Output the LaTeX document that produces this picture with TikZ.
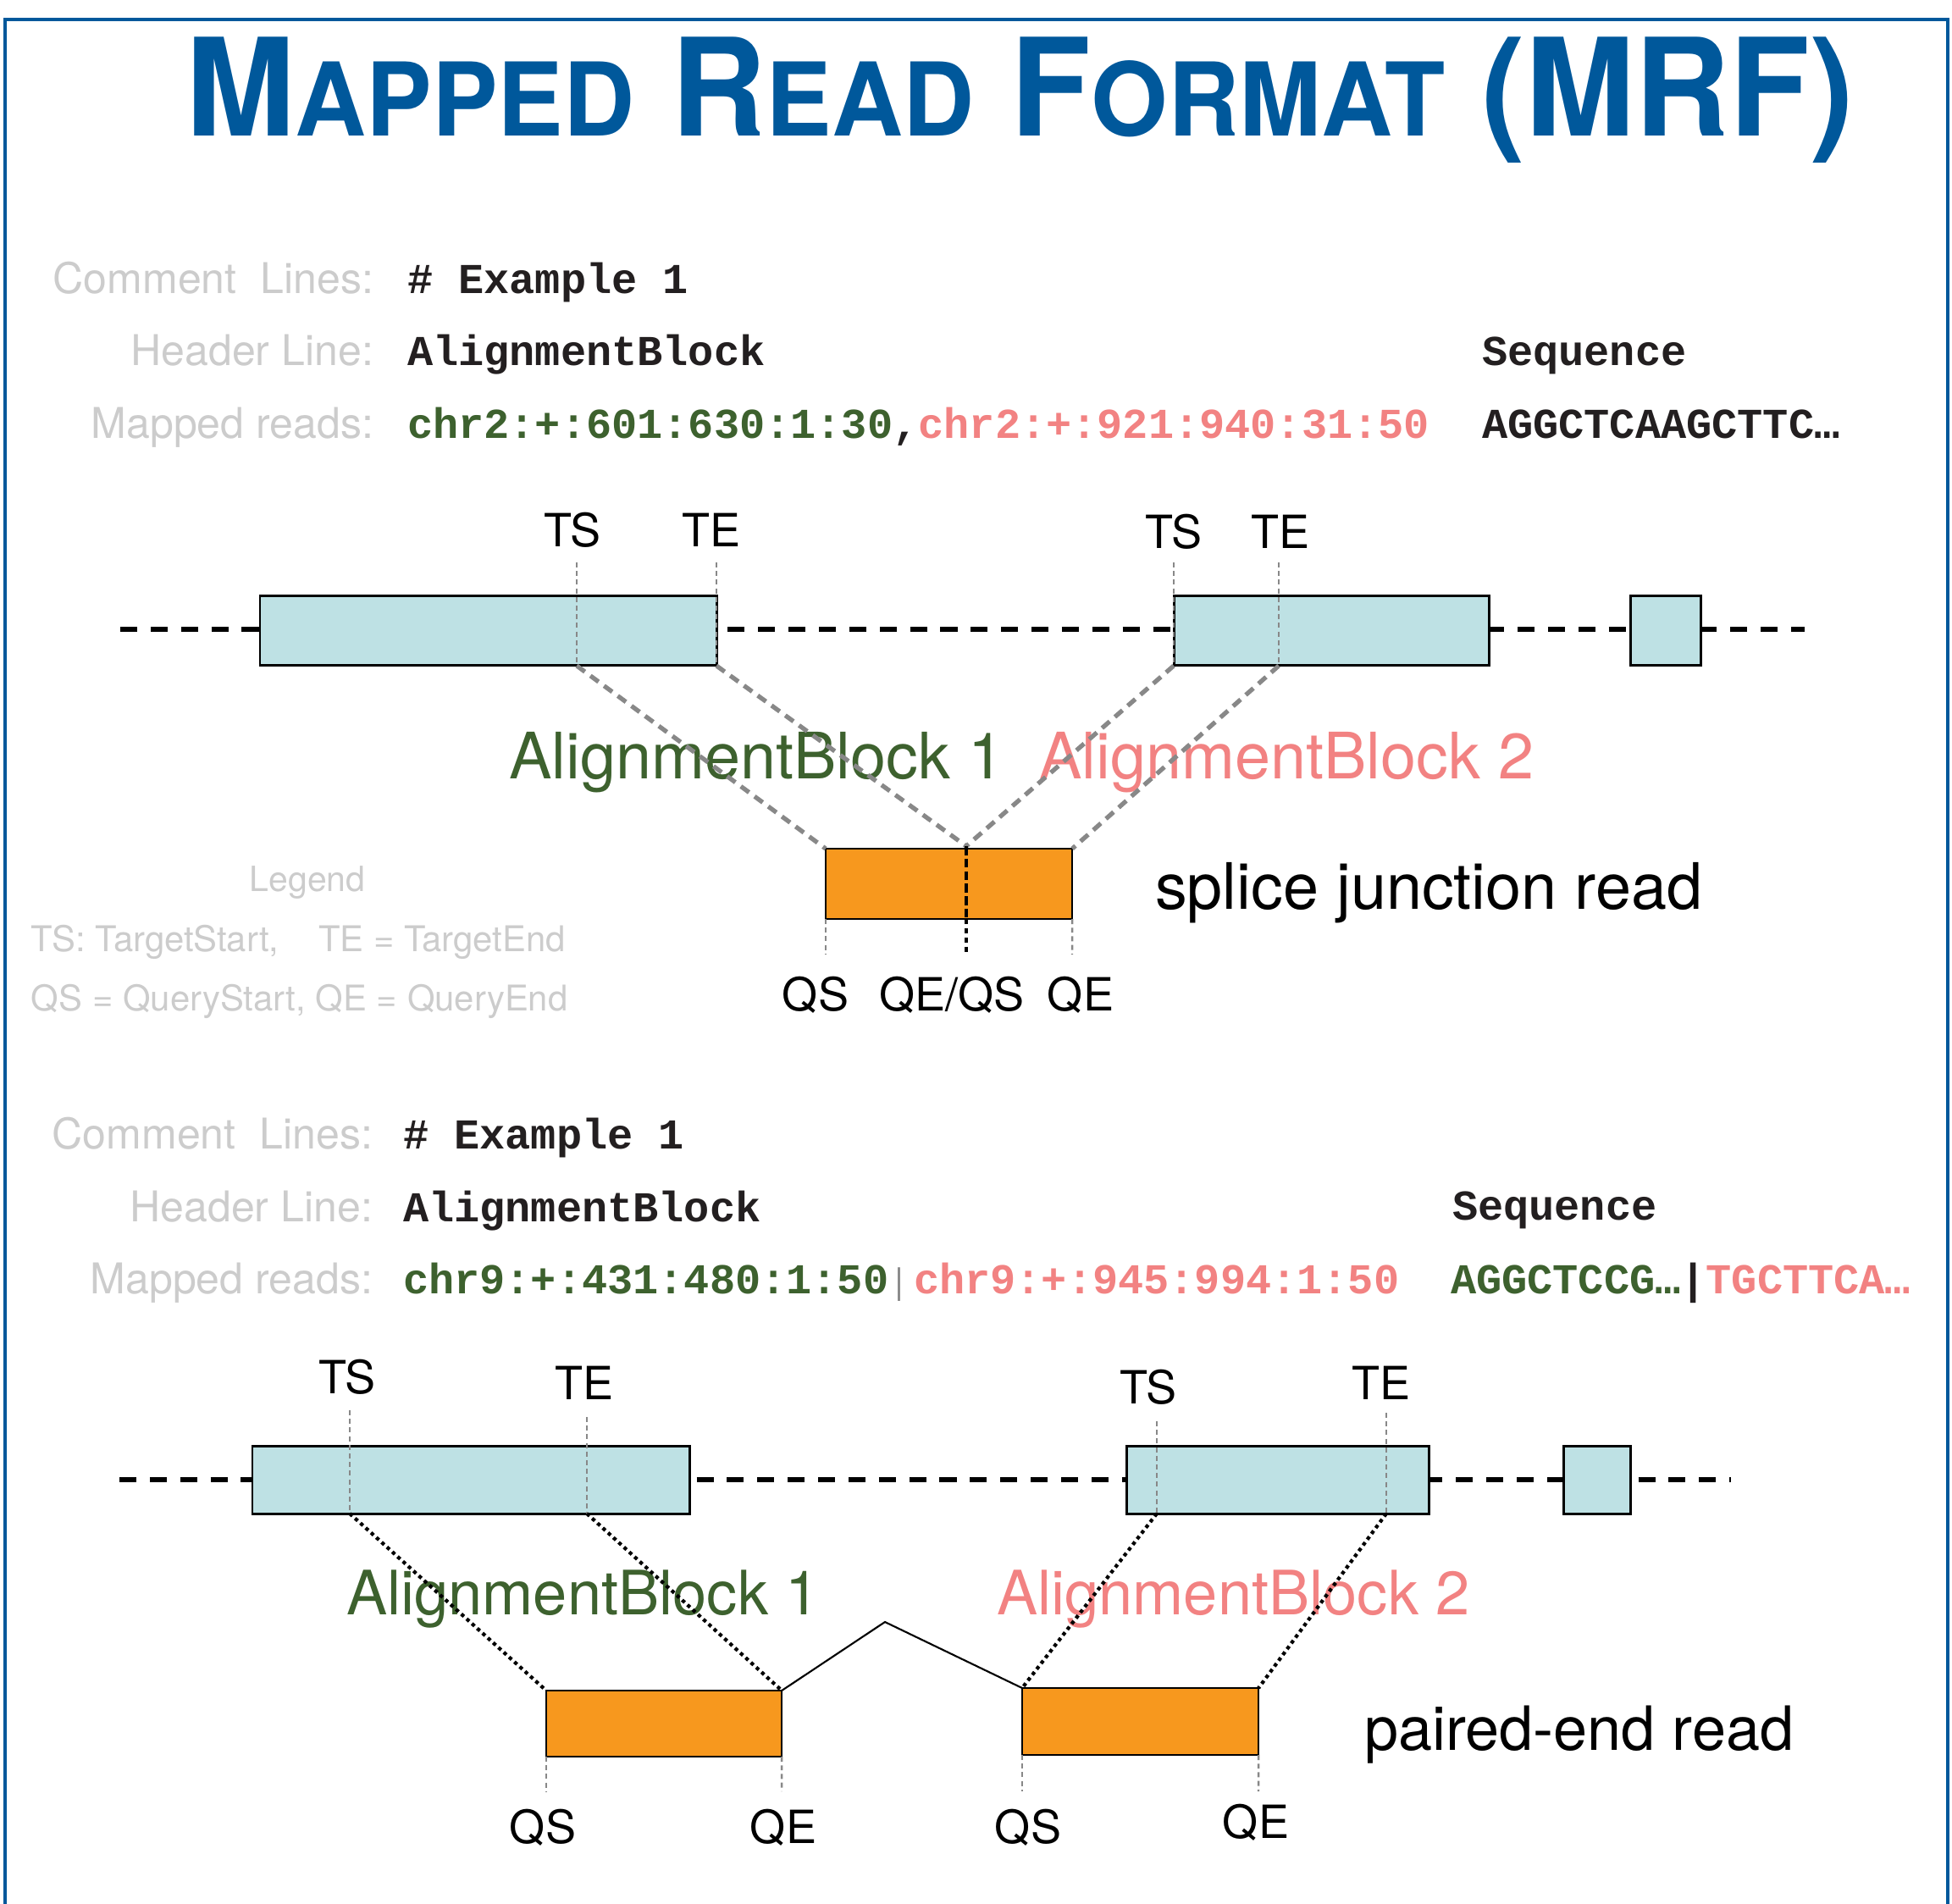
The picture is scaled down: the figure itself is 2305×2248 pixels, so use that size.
\documentclass[tikz,border=0pt]{standalone}
\usepackage{fontspec}
\setmainfont{TeX Gyre Heros}
\setmonofont{Liberation Mono}
\usetikzlibrary{calc}

\definecolor{titleblue}{RGB}{0,88,155}
\definecolor{labelgray}{RGB}{204,204,204}
\definecolor{markgray}{RGB}{136,136,136}
\definecolor{codeblack}{RGB}{35,31,32}
\definecolor{codegreen}{RGB}{61,97,46}
\definecolor{codepink}{RGB}{242,130,130}
\definecolor{exonblue}{RGB}{190,225,228}
\definecolor{readorange}{RGB}{247,152,30}

\tikzset{
  every node/.style={inner sep=0pt, outer sep=0pt},
  fieldname/.style={anchor=base east, text=labelgray, font=\fontsize{14.23pt}{17pt}\selectfont},
  codetext/.style={anchor=base west, text=codeblack, font=\fontsize{14.3pt}{17pt}\selectfont\ttfamily\bfseries},
  marklabel/.style={anchor=base, font=\fontsize{15.36pt}{18pt}\selectfont},
  blocklabel/.style={anchor=base west, font=\fontsize{21.5pt}{25pt}\selectfont},
  blocklabelsm/.style={anchor=base west, font=\fontsize{20.55pt}{24pt}\selectfont},
  legendtext/.style={anchor=base west, text=labelgray, font=\fontsize{11.9pt}{14pt}\selectfont},
  exon/.style={draw=black, fill=exonblue, line width=0.85pt, anchor=north west},
  readbox/.style={draw=black, fill=readorange, line width=0.75pt, anchor=north west},
  backbone/.style={line width=1.45pt, dash pattern=on 5.7pt off 4.5pt},
  marker/.style={draw=markgray, line width=0.7pt, dash pattern=on 1.7pt off 1.2pt},
  projgray/.style={draw=markgray, line width=1.5pt, dash pattern=on 3.4pt off 2.3pt},
  projdot/.style={line width=1.2pt, dash pattern=on 1.2pt off 1.2pt},
  joinline/.style={line width=0.6pt},
}

\begin{document}
\begin{tikzpicture}[x=0.01cm, y=-0.01cm]
\useasboundingbox (0,0) rectangle (2305,2248);

% frame
\draw[titleblue, line width=1.4pt] (6,2260) -- (6,23) -- (2300,23) -- (2300,2260);

% title in small capitals
\node[anchor=base west, text=titleblue] (title) at (219,160)
  {\scalebox{0.97}[1]{\bfseries\fontsize{45.52pt}{50pt}\selectfont
   M{\fontsize{34.14pt}{38pt}\selectfont APPED} R{\fontsize{34.14pt}{38pt}\selectfont EAD} F{\fontsize{34.14pt}{38pt}\selectfont ORMAT} (MRF)}};

% ---------------- splice junction example ----------------
\node[fieldname] (cl1) at (441,346) {Comment\ \ Lines:};
\node[fieldname] (hl1) at (441,431) {Header Line:};
\node[fieldname] (mr1) at (441,517) {Mapped reads:};
\node[codetext] (cv1) at (481,346) {\# Example 1};
\node[codetext] (hv1) at (481,431) {AlignmentBlock};
\node[codetext] (sq1) at (1750,431) {Sequence};
\node[codetext] (rv1) at (481,517)
  {{\color{codegreen}chr2:+:601:630:1:30}{\color{codeblack},}{\color{codepink}chr2:+:921:940:31:50}};
\node[codetext] (sv1) at (1750,517) {AGGCTCAAGCTTC…};

\coordinate (bbA) at (142,743);
\coordinate (bbB) at (2131,743);
\draw[backbone] (bbA) -- (bbB);

\node[exon, minimum width=5.39cm, minimum height=0.82cm] (ex1) at (307,703) {};
\node[exon, minimum width=3.72cm, minimum height=0.82cm] (ex2) at (1386,703) {};
\node[exon, minimum width=0.83cm, minimum height=0.82cm] (ex3) at (1925,703) {};

\node[marklabel] (tsA) at (676,645) {TS};
\node[marklabel] (teA) at (840,645) {TE};
\node[marklabel] (tsB) at (1386,647) {TS};
\node[marklabel] (teB) at (1512,647) {TE};

\coordinate (tsAt) at (681,664);  \coordinate (tsAb) at (681,786);
\coordinate (teAt) at (846,664);  \coordinate (teAb) at (846,786);
\coordinate (tsBt) at (1386,664); \coordinate (tsBb) at (1386,786);
\coordinate (teBt) at (1510,664); \coordinate (teBb) at (1510,786);
\draw[marker] (tsAt) -- (tsAb);
\draw[marker] (teAt) -- (teAb);
\draw[marker] (tsBt) -- (tsBb);
\draw[marker] (teBt) -- (teBb);

\node[blocklabel, text=codegreen] (ab1) at (601,919) {AlignmentBlock 1};
\node[blocklabel, text=codepink] (ab2) at (1227,919) {AlignmentBlock 2};

\node[readbox, minimum width=2.91cm, minimum height=0.83cm] (rd1) at (975,1002) {};
\coordinate (jn) at (1141,999);
\coordinate (jnm) at (1141,1085);
\coordinate (jnb) at (1141,1127);
\coordinate (qsAb) at (975,1127);
\coordinate (qeAb) at (1266,1127);

\draw[projgray] (tsAb) -- (rd1.north west);
\draw[projgray] (teAb) -- (jn);
\draw[projgray] (tsBb) -- (jn);
\draw[projgray] (teBb) -- (rd1.north east);

\draw[line width=1.1pt, dash pattern=on 3pt off 1.2pt] (jn) -- (jnm);
\draw[line width=0.9pt, dash pattern=on 1.7pt off 1.4pt] (jnm) -- (jnb);
\draw[marker] (rd1.south west) -- (qsAb);
\draw[marker] (rd1.south east) -- (qeAb);

\node[marklabel] (qsA) at (963,1193) {QS};
\node[marklabel] (qeqs) at (1124,1193) {QE/QS};
\node[marklabel] (qeA) at (1276,1193) {QE};

\node[blocklabel] (sjr) at (1364,1073) {splice junction read};

\node[anchor=base, text=labelgray, font=\fontsize{11.67pt}{14pt}\selectfont] (leg) at (363,1052) {Legend};
\node[legendtext] (legA) at (37,1123) {TS: TargetStart,\ \ \ \ TE = TargetEnd};
\node[legendtext] (legB) at (37,1193) {QS = QueryStart, QE = QueryEnd};

% ---------------- paired-end example ----------------
\node[fieldname] (cl2) at (440,1356) {Comment\ \ Lines:};
\node[fieldname] (hl2) at (440,1442) {Header Line:};
\node[fieldname] (mr2) at (440,1527) {Mapped reads:};
\node[codetext] (cv2) at (476,1356) {\# Example 1};
\node[codetext] (hv2) at (476,1442) {AlignmentBlock};
\node[codetext] (sq2) at (1715,1440) {Sequence};
\node[codetext, text=codegreen] (rvA) at (476,1527) {chr9:+:431:480:1:50};
\node[anchor=base, text=markgray, font=\fontsize{12pt}{14pt}\selectfont] (rsep) at (1062,1527) {|};
\node[codetext, text=codepink] (rvB) at (1079,1527) {chr9:+:945:994:1:50};
\node[codetext] (sv2) at (1713,1527)
  {{\color{codegreen}AGGCTCCG…}{\color{codeblack}|}{\color{codepink}TGCTTCA…}};

\coordinate (bbC) at (141,1747);
\coordinate (bbD) at (2044,1747);
\draw[backbone] (bbC) -- (bbD);

\node[exon, minimum width=5.16cm, minimum height=0.80cm] (ex4) at (298,1707) {};
\node[exon, minimum width=3.57cm, minimum height=0.80cm] (ex5) at (1330,1707) {};
\node[exon, minimum width=0.79cm, minimum height=0.80cm] (ex6) at (1846,1707) {};

\node[marklabel] (tsC) at (410,1645) {TS};
\node[marklabel] (teC) at (690,1652) {TE};
\node[marklabel] (tsD) at (1356,1657) {TS};
\node[marklabel] (teD) at (1631,1652) {TE};

\coordinate (tsCt) at (413,1665);  \coordinate (tsCb) at (413,1787);
\coordinate (teCt) at (693,1673);  \coordinate (teCb) at (693,1787);
\coordinate (tsDt) at (1366,1678); \coordinate (tsDb) at (1366,1787);
\coordinate (teDt) at (1637,1668); \coordinate (teDb) at (1637,1787);
\draw[marker] (tsCt) -- (tsCb);
\draw[marker] (teCt) -- (teCb);
\draw[marker] (tsDt) -- (tsDb);
\draw[marker] (teDt) -- (teDb);

\node[blocklabelsm, text=codegreen] (ab3) at (409,1906) {AlignmentBlock 1};
\node[blocklabelsm, text=codepink] (ab4) at (1177,1906) {AlignmentBlock 2};

\node[readbox, minimum width=2.78cm, minimum height=0.78cm] (rd2) at (645,1996) {};
\node[readbox, minimum width=2.79cm, minimum height=0.79cm] (rd3) at (1207,1993) {};

\draw[projdot] (tsCb) -- (rd2.north west);
\draw[projdot] (teCb) -- (rd2.north east);
\draw[projdot] (tsDb) -- (rd3.north west);
\draw[projdot] (teDb) -- (rd3.north east);

\coordinate (peak) at (1045,1915);
\draw[joinline] (rd2.north east) -- (peak) -- (rd3.north west);

\coordinate (qsCb) at (645,2115);
\coordinate (qeCb) at (923,2115);
\coordinate (qsDb) at (1207,2115);
\coordinate (qeDb) at (1486,2115);
\draw[marker] (rd2.south west) -- (qsCb);
\draw[marker] (rd2.south east) -- (qeCb);
\draw[marker] (rd3.south west) -- (qsDb);
\draw[marker] (rd3.south east) -- (qeDb);

\node[marklabel] (qsC) at (641,2176) {QS};
\node[marklabel] (qeC) at (925,2176) {QE};
\node[marklabel] (qsD) at (1214,2176) {QS};
\node[marklabel] (qeD) at (1483,2170) {QE};

\node[anchor=base west, font=\fontsize{20.49pt}{24pt}\selectfont] (per) at (1611,2066) {paired-end read};

\end{tikzpicture}
\end{document}
